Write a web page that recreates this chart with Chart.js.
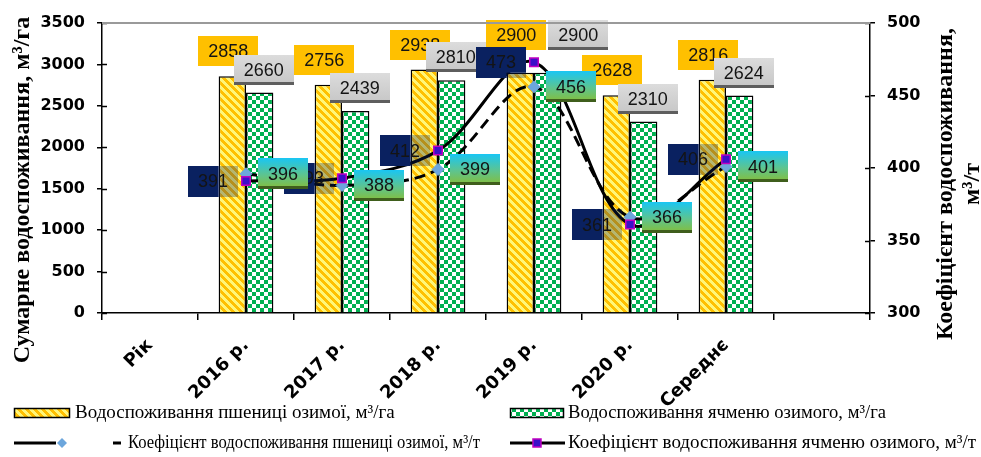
<!DOCTYPE html>
<html>
<head>
<meta charset="utf-8">
<script src="https://cdn.jsdelivr.net/npm/chart.js@4.4.1/dist/chart.umd.min.js"></script>
<style>
  html, body { margin: 0; padding: 0; background: #fff; }
  #wrap { width: 981px; height: 457px; position: relative; }
</style>
</head>
<body>
<div id="wrap"><canvas id="chart" width="981" height="457"></canvas></div>
<script>
// ---- data ----
const categories = ['Рік', '2016 р.', '2017 р.', '2018 р.', '2019 р.', '2020 р.', 'Середнє', ''];
const wheatWater  = [null, 2858, 2756, 2938, 2900, 2628, 2816, null];
const barleyWater = [null, 2660, 2439, 2810, 2900, 2310, 2624, null];
const wheatCoef   = [null, 396, 388, 399, 456, 366, 401, null];
const barleyCoef  = [null, 391, 393, 412, 473, 361, 406, null];
const leftAxisRange  = [0, 3500, 500];
const rightAxisRange = [300, 500, 50];
const seriesNames = [
  'Водоспоживання пшениці озимої, м³/га',
  'Водоспоживання ячменю озимого, м³/га',
  'Коефіцієнт водоспоживання пшениці озимої, м³/т',
  'Коефіцієнт водоспоживання ячменю озимого, м³/т'
];
const leftTitle = 'Сумарне водоспоживання, м³/га';
const rightTitle = ['Коефіцієнт водоспоживання,', 'м³/т'];

// ---- fill patterns ----
function makeTile(size, painter) {
  const c = document.createElement('canvas');
  c.width = c.height = size;
  const g = c.getContext('2d');
  const img = g.createImageData(size, size);
  for (let y = 0; y < size; y++) {
    for (let x = 0; x < size; x++) {
      const col = painter(x, y);
      const k = (y * size + x) * 4;
      img.data[k] = col[0]; img.data[k + 1] = col[1]; img.data[k + 2] = col[2]; img.data[k + 3] = 255;
    }
  }
  g.putImageData(img, 0, 0);
  return c;
}
const canvas = document.getElementById('chart');
const ctx = canvas.getContext('2d');
// yellow with orange downward diagonal stripes
const stripeTile = makeTile(8, (x, y) => (((x - y) % 8 + 8) % 8) < 4 ? [255, 192, 0] : [255, 246, 120]);
// green / white checkerboard
const checkTile = makeTile(8, (x, y) => ((Math.floor(x / 4) + Math.floor(y / 4)) % 2 === 0) ? [0, 176, 80] : [255, 255, 255]);
const wheatFill = ctx.createPattern(stripeTile, 'repeat');
const barleyFill = ctx.createPattern(checkTile, 'repeat');

// ---- label boxes ----
const LABEL_FONT = '18px "Liberation Sans", Arial, sans-serif';
const BOX_W = 60, BOX_H = 30, COEF_W = 50, COEF_H = 31;
function drawBox(c, cx, cy, w, h, style) {
  const x = Math.round(cx - w / 2), y = Math.round(cy - h / 2);
  if (style === 'orange') {
    c.fillStyle = '#FFC000';
    c.fillRect(x, y, w, h);
  } else if (style === 'gray') {
    const gr = c.createLinearGradient(0, y, 0, y + h);
    gr.addColorStop(0, '#DCDCDC'); gr.addColorStop(1, '#C6C6C6');
    c.fillStyle = gr; c.fillRect(x, y, w, h);
    c.fillStyle = '#5E5E5E'; c.fillRect(x, y + h - 3, w, 3);
  } else if (style === 'cyan') {
    const gr = c.createLinearGradient(0, y, 0, y + h);
    gr.addColorStop(0, '#19C6F4'); gr.addColorStop(0.55, '#5EC48E'); gr.addColorStop(1, '#86BE38');
    c.fillStyle = gr; c.fillRect(x, y, w, h);
    c.fillStyle = '#3F5E1C'; c.fillRect(x, y + h - 3, w, 3);
  }
}
function drawBoxText(c, cx, cy, text) {
  c.font = LABEL_FONT;
  c.fillStyle = '#141414';
  c.textAlign = 'center';
  c.textBaseline = 'middle';
  c.fillText(text, cx, cy + 1);
}

const valueBoxes = {
  id: 'valueBoxes',
  afterDatasetsDraw(chart) {
    const c = chart.ctx;
    c.save();
    const wBars = chart.getDatasetMeta(2).data;
    const bBars = chart.getDatasetMeta(3).data;
    const bp = chart.getDatasetMeta(1).data;
    const wp = chart.getDatasetMeta(0).data;

    // water-use labels above the bars
    wheatWater.forEach((v, i) => {
      if (v == null) return;
      const b = wBars[i], g = bBars[i];
      let ox = b.x - 4, oy = b.y - 25;
      // keep clear of the coefficient label below
      const navyTop = Math.round(bp[i].y - COEF_H / 2);
      oy = Math.min(oy, navyTop - BOX_H / 2 + 3);
      let gx = g.x + 4, gy = g.y - 23;
      if (barleyWater[i] >= v) { gx = ox + BOX_W + 2; gy = oy; }
      drawBox(c, ox, oy, BOX_W, BOX_H, 'orange');
      drawBoxText(c, ox, oy, String(v));
      drawBox(c, gx, gy, BOX_W, BOX_H, 'gray');
      drawBoxText(c, gx, gy, String(barleyWater[i]));
    });

    // navy labels of the barley coefficient: solid on white, tinted over the wheat bar
    barleyCoef.forEach((v, i) => {
      if (v == null) return;
      const cx = bp[i].x - 33, cy = bp[i].y;
      const bx = Math.round(cx - COEF_W / 2), by = Math.round(cy - COEF_H / 2);
      const bar = wBars[i];
      const rx = bar.x - bar.width / 2, ry = bar.y, rw = bar.width, rh = bar.base - bar.y;
      c.save();
      c.beginPath();
      c.rect(bx, by, COEF_W, COEF_H);
      c.rect(rx, ry, rw, rh);
      c.clip('evenodd');
      c.fillStyle = '#0A2160';
      c.fillRect(bx, by, COEF_W, COEF_H);
      c.restore();
      c.save();
      c.beginPath(); c.rect(rx, ry, rw, rh); c.clip();
      c.fillStyle = 'rgba(10,33,96,0.3)';
      c.fillRect(bx, by, COEF_W, COEF_H);
      c.restore();
      drawBoxText(c, cx, cy, String(v));
    });

    // gradient labels of the wheat coefficient
    wheatCoef.forEach((v, i) => {
      if (v == null) return;
      const cx = wp[i].x + 37, cy = wp[i].y;
      drawBox(c, cx, cy, COEF_W, COEF_H, 'cyan');
      drawBoxText(c, cx, cy, String(v));
    });
    c.restore();
  }
};

// ---- frame: inner tick halves, top border, axis titles, legend ----
const frame = {
  id: 'frame',
  afterDraw(chart) {
    const c = chart.ctx;
    const a = chart.chartArea;
    const y = chart.scales.y, y1 = chart.scales.y1;
    c.save();
    c.strokeStyle = '#000';
    c.lineWidth = 1.5;
    y.ticks.forEach(t => {
      const py = Math.round(y.getPixelForValue(t.value)) + 0.5;
      c.beginPath(); c.moveTo(a.left, py); c.lineTo(a.left + 5, py); c.stroke();
    });
    y1.ticks.forEach(t => {
      const py = Math.round(y1.getPixelForValue(t.value)) + 0.5;
      c.beginPath(); c.moveTo(a.right - 5, py); c.lineTo(a.right, py); c.stroke();
    });
    c.strokeStyle = '#9A9A9A';
    c.lineWidth = 2;
    c.beginPath(); c.moveTo(a.left, a.top); c.lineTo(a.right, a.top); c.stroke();

    // axis titles, both read bottom to top
    c.fillStyle = '#000';
    c.font = 'bold 24px "Liberation Serif", "Times New Roman", serif';
    c.textAlign = 'center';
    c.textBaseline = 'middle';
    c.save();
    c.translate(23, 190); c.rotate(-Math.PI / 2);
    c.fillText(leftTitle, 0, 0);
    c.restore();
    c.save();
    c.translate(946, 184); c.rotate(-Math.PI / 2);
    c.fillText(rightTitle[0], 0, 0);
    c.fillText(rightTitle[1], 0, 27);
    c.restore();

    // legend in two columns
    const r1 = 413, r2 = 443;
    c.lineWidth = 1.5;
    c.strokeStyle = '#000';
    c.fillStyle = wheatFill; c.fillRect(14, r1 - 5, 56, 10); c.strokeRect(14.5, r1 - 4.5, 55, 9);
    c.fillStyle = barleyFill; c.fillRect(510, r1 - 5, 54, 10); c.strokeRect(510.5, r1 - 4.5, 53, 9);
    // dashed line symbol
    c.lineWidth = 3;
    c.setLineDash([42, 57, 8, 100]);
    c.beginPath(); c.moveTo(14, r2); c.lineTo(122, r2); c.stroke();
    c.setLineDash([]);
    c.fillStyle = '#6CA6DC';
    c.beginPath(); c.moveTo(62, r2 - 5); c.lineTo(67, r2); c.lineTo(62, r2 + 5); c.lineTo(57, r2); c.closePath(); c.fill();
    // solid line symbol
    c.beginPath(); c.moveTo(510, r2); c.lineTo(565, r2); c.stroke();
    c.fillStyle = '#3A10C8'; c.fillRect(533, r2 - 4, 8, 8);
    c.strokeStyle = '#C000C0'; c.lineWidth = 1.5; c.strokeRect(533, r2 - 4, 8, 8);

    c.fillStyle = '#000';
    c.font = '19px "Liberation Serif", "Times New Roman", serif';
    c.textAlign = 'left';
    c.textBaseline = 'middle';
    c.fillText(seriesNames[0], 75, r1, 322);
    c.fillText(seriesNames[1], 568, r1, 318);
    c.fillText(seriesNames[2], 128, r2, 352);
    c.fillText(seriesNames[3], 568, r2, 410);
    c.restore();
  }
};

const tickFont = { family: '"DejaVu Sans", sans-serif', weight: 'bold', size: 16 };
const plainNumber = v => String(v);

new Chart(ctx, {
  type: 'bar',
  data: {
    labels: categories,
    datasets: [
      {
        type: 'line', label: seriesNames[2], data: wheatCoef, yAxisID: 'y1', order: 1,
        borderColor: '#000', borderWidth: 3, borderDash: [11, 6], tension: 0.35, fill: false,
        pointStyle: 'rectRot', pointRadius: 6, pointBackgroundColor: '#6CA6DC', pointBorderColor: '#6CA6DC', pointBorderWidth: 1
      },
      {
        type: 'line', label: seriesNames[3], data: barleyCoef, yAxisID: 'y1', order: 0,
        borderColor: '#000', borderWidth: 3, tension: 0.35, fill: false,
        pointStyle: 'rect', pointRadius: 6, pointBackgroundColor: '#3A10C8', pointBorderColor: '#C000C0', pointBorderWidth: 1.5
      },
      {
        label: seriesNames[0], data: wheatWater, yAxisID: 'y', order: 2,
        backgroundColor: wheatFill, borderColor: '#000', borderWidth: 1.5,
        categoryPercentage: 0.57, barPercentage: 1
      },
      {
        label: seriesNames[1], data: barleyWater, yAxisID: 'y', order: 2,
        backgroundColor: barleyFill, borderColor: '#000', borderWidth: 1.5,
        categoryPercentage: 0.57, barPercentage: 1
      }
    ]
  },
  options: {
    responsive: false,
    animation: false,
    layout: { padding: { top: 23, left: 0, right: 0, bottom: 0 } },
    plugins: { legend: { display: false }, tooltip: { enabled: false } },
    scales: {
      x: {
        grid: { offset: true, drawOnChartArea: false, color: '#000', lineWidth: 1.5, tickLength: 7 },
        border: { color: '#000', width: 1.5 },
        ticks: { autoSkip: false, minRotation: 45, maxRotation: 45, color: '#000', font: { ...tickFont, size: 18 }, padding: 15 },
        afterFit(s) { s.height = 144; }
      },
      y: {
        position: 'left',
        min: leftAxisRange[0], max: leftAxisRange[1],
        ticks: { stepSize: leftAxisRange[2], color: '#000', font: tickFont, padding: 12, callback: plainNumber },
        grid: { drawOnChartArea: false, color: '#000', lineWidth: 1.5, tickLength: 5 },
        border: { color: '#000', width: 1.5 },
        afterFit(s) { s.width = 102; }
      },
      y1: {
        position: 'right',
        min: rightAxisRange[0], max: rightAxisRange[1],
        ticks: { stepSize: rightAxisRange[2], color: '#000', font: tickFont, padding: 12, callback: plainNumber },
        grid: { drawOnChartArea: false, color: '#000', lineWidth: 1.5, tickLength: 5 },
        border: { color: '#000', width: 1.5 },
        afterFit(s) { s.width = 111; }
      }
    }
  },
  plugins: [valueBoxes, frame]
});
</script>
</body>
</html>
